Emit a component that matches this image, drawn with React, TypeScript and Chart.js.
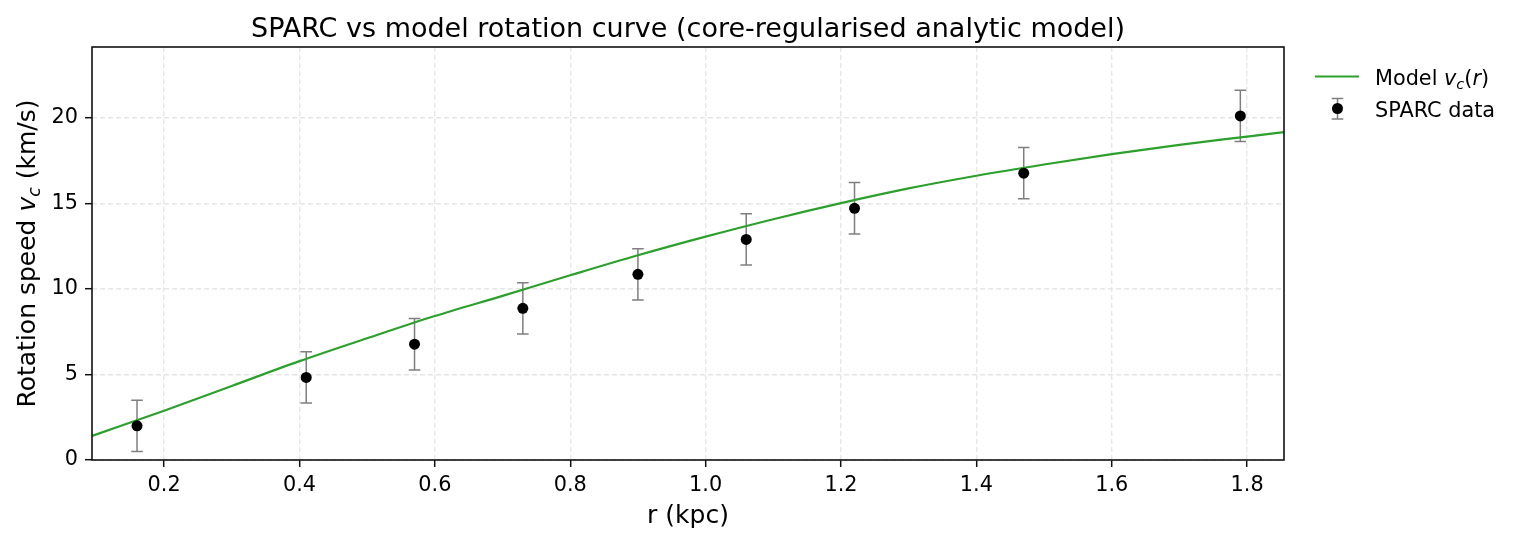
import { useEffect, useRef } from "react";
import { Chart, registerables } from "chart.js";

Chart.register(...registerables);

// ---- data ----
const radiusKpc = [0.16, 0.41, 0.57, 0.73, 0.9, 1.06, 1.22, 1.47, 1.79];
const speedKms = [2.0, 4.83, 6.77, 8.87, 10.86, 12.9, 14.72, 16.77, 20.12];
const speedErr = [1.5, 1.5, 1.5, 1.5, 1.5, 1.5, 1.5, 1.5, 1.5];

const modelR = [0.09, 0.1, 0.2, 0.3, 0.4, 0.5, 0.6, 0.7, 0.8, 0.9, 1.0, 1.1, 1.2, 1.3, 1.4, 1.5, 1.6, 1.7, 1.8, 1.86];
const modelV = [1.36, 1.5, 2.88, 4.33, 5.78, 7.12, 8.42, 9.6, 10.8, 11.97, 13.06, 14.08, 15.02, 15.88, 16.62, 17.28, 17.89, 18.43, 18.91, 19.2];

const xTickValues = [0.2, 0.4, 0.6, 0.8, 1.0, 1.2, 1.4, 1.6, 1.8];
const yTickValues = [0, 5, 10, 15, 20];
const xRange = [0.0935, 1.8545];
const yRange = [0, 24.15];

const titleText = "SPARC vs model rotation curve (core-regularised analytic model)";
const xLabelText = "r (kpc)";

const FONT = "'DejaVu Sans', 'Liberation Sans', sans-serif";
const GREEN = "#2ca02c";
const ERR_GRAY = "#7f7f7f";

type Seg = { t: string; it?: boolean; sub?: boolean };

function segFont(s: Seg, size: number) {
  return `${s.it ? "italic " : ""}${s.sub ? size * 0.7 : size}px ${FONT}`;
}

function richWidth(ctx: CanvasRenderingContext2D, segs: Seg[], size: number) {
  let w = 0;
  for (const s of segs) {
    ctx.font = segFont(s, size);
    w += ctx.measureText(s.t).width;
  }
  return w;
}

function drawRich(
  ctx: CanvasRenderingContext2D,
  segs: Seg[],
  x: number,
  y: number,
  size: number,
  align: "left" | "center"
) {
  const w = richWidth(ctx, segs, size);
  let cx = align === "center" ? x - w / 2 : x;
  ctx.textAlign = "left";
  ctx.textBaseline = "alphabetic";
  for (const s of segs) {
    ctx.font = segFont(s, size);
    ctx.fillText(s.t, cx, s.sub ? y + 0.2 * size : y);
    cx += ctx.measureText(s.t).width;
  }
}

function drawErrorBar(ctx: CanvasRenderingContext2D, x: number, yTop: number, yBot: number, half: number) {
  ctx.beginPath();
  ctx.moveTo(x, yTop);
  ctx.lineTo(x, yBot);
  ctx.moveTo(x - half, yTop);
  ctx.lineTo(x + half, yTop);
  ctx.moveTo(x - half, yBot);
  ctx.lineTo(x + half, yBot);
  ctx.stroke();
}

const errorBarPlugin = {
  id: "errorBars",
  beforeDatasetsDraw(chart: any) {
    const { ctx, scales } = chart;
    const xs = scales.x;
    const ys = scales.y;
    ctx.save();
    ctx.strokeStyle = ERR_GRAY;
    ctx.lineWidth = 1.5;
    for (let i = 0; i < radiusKpc.length; i++) {
      const px = xs.getPixelForValue(radiusKpc[i]);
      const top = ys.getPixelForValue(speedKms[i] + speedErr[i]);
      const bot = ys.getPixelForValue(speedKms[i] - speedErr[i]);
      drawErrorBar(ctx, px, top, bot, 5.8);
    }
    ctx.restore();
  },
};

const decorPlugin = {
  id: "decor",
  afterDraw(chart: any) {
    const { ctx, chartArea } = chart;
    const { left, right, top, bottom } = chartArea;
    ctx.save();
    // frame
    ctx.strokeStyle = "#111";
    ctx.lineWidth = 1.6;
    ctx.strokeRect(left, top, right - left, bottom - top);

    ctx.fillStyle = "#000";
    const cx = (left + right) / 2;
    // title
    drawRich(ctx, [{ t: titleText }], cx, 36.5, 27, "center");
    // x label
    drawRich(ctx, [{ t: xLabelText }], cx, 523, 25, "center");
    // y label (rotated)
    ctx.save();
    ctx.translate(35, (top + bottom) / 2);
    ctx.rotate(-Math.PI / 2);
    drawRich(
      ctx,
      [{ t: "Rotation speed " }, { t: "v", it: true }, { t: "c", it: true, sub: true }, { t: " (km/s)" }],
      0,
      0,
      25,
      "center"
    );
    ctx.restore();

    // legend
    ctx.strokeStyle = GREEN;
    ctx.lineWidth = 2.2;
    ctx.beginPath();
    ctx.moveTo(1315, 76.5);
    ctx.lineTo(1359, 76.5);
    ctx.stroke();
    drawRich(
      ctx,
      [{ t: "Model " }, { t: "v", it: true }, { t: "c", it: true, sub: true }, { t: "(" }, { t: "r", it: true }, { t: ")" }],
      1375,
      85,
      20.8,
      "left"
    );
    ctx.strokeStyle = ERR_GRAY;
    ctx.lineWidth = 1.5;
    drawErrorBar(ctx, 1337.5, 98.5, 119, 5.8);
    ctx.fillStyle = "#000";
    ctx.beginPath();
    ctx.arc(1337.5, 108.5, 5.5, 0, Math.PI * 2);
    ctx.fill();
    drawRich(ctx, [{ t: "SPARC data" }], 1375, 116.7, 20.8, "left");
    ctx.restore();
  },
};

export default function App() {
  const canvasRef = useRef<HTMLCanvasElement | null>(null);

  useEffect(() => {
    if (!canvasRef.current) return;
    const modelPts = modelR.map((r, i) => ({ x: r, y: modelV[i] }));
    const dataPts = radiusKpc.map((r, i) => ({ x: r, y: speedKms[i] }));

    const gridCommon = {
      color: "#e6e6e6",
      lineWidth: 1.4,
      drawTicks: true,
      tickLength: 7,
      tickWidth: 1.5,
      tickColor: "#111",
    };

    const chart = new Chart(canvasRef.current, {
      type: "scatter",
      data: {
        datasets: [
          {
            label: "SPARC data",
            data: dataPts,
            pointRadius: 5.5,
            pointBackgroundColor: "#000",
            pointBorderWidth: 0,
            showLine: false,
            order: 0,
          },
          {
            label: "Model",
            data: modelPts,
            showLine: true,
            borderColor: GREEN,
            borderWidth: 2.2,
            pointRadius: 0,
            fill: false,
            cubicInterpolationMode: "monotone",
            clip: 0,
            order: 1,
          },
        ],
      },
      plugins: [errorBarPlugin, decorPlugin],
      options: {
        animation: false,
        responsive: false,
        devicePixelRatio: 1,
        events: [],
        layout: { padding: { top: 47, right: 233, bottom: 0, left: 0 } },
        plugins: {
          legend: { display: false },
          title: { display: false },
          tooltip: { enabled: false },
        },
        scales: {
          x: {
            type: "linear",
            min: xRange[0],
            max: xRange[1],
            afterFit: (s: any) => {
              s.height = 82;
            },
            afterBuildTicks: (s: any) => {
              s.ticks = xTickValues.map((v) => ({ value: v }));
            },
            ticks: {
              callback: (v: any) => Number(v).toFixed(1),
              color: "#000",
              font: { family: FONT, size: 20.8 },
              padding: 6,
              maxRotation: 0,
              autoSkip: false,
            },
            grid: gridCommon,
            border: { display: false, dash: [5, 3] },
          },
          y: {
            type: "linear",
            min: yRange[0],
            max: yRange[1],
            afterFit: (s: any) => {
              s.width = 92;
            },
            afterBuildTicks: (s: any) => {
              s.ticks = yTickValues.map((v) => ({ value: v }));
            },
            ticks: {
              callback: (v: any) => String(v),
              color: "#000",
              font: { family: FONT, size: 20.8 },
              padding: 7,
              autoSkip: false,
            },
            grid: gridCommon,
            border: { display: false, dash: [5, 3] },
          },
        },
      } as any,
    });
    return () => chart.destroy();
  }, []);

  return (
    <div style={{ position: "absolute", left: 0, top: 0, width: 1517, height: 542, background: "#fff" }}>
      <canvas ref={canvasRef} width={1517} height={542} style={{ display: "block" }} />
    </div>
  );
}
